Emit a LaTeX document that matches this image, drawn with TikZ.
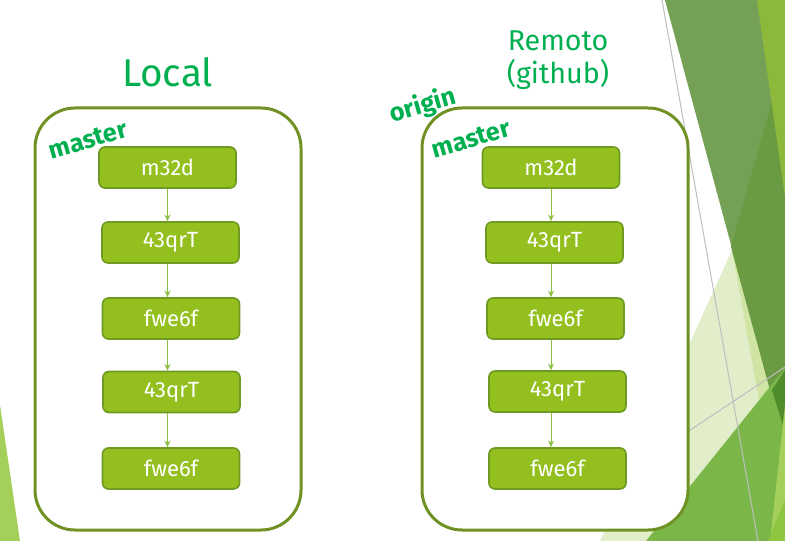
\documentclass[tikz,border=0pt]{standalone}
\usepackage{fontspec}
\setmainfont{Fira Sans}
\usetikzlibrary{arrows.meta}

\definecolor{titlegreen}{RGB}{0,176,80}
\definecolor{framegreen}{RGB}{112,146,36}
\definecolor{commitfill}{RGB}{147,192,31}
\definecolor{commitline}{RGB}{111,154,34}
\definecolor{linkgreen}{RGB}{141,192,64}
\definecolor{facetdark}{RGB}{117,161,87}
\definecolor{facetdeep}{RGB}{106,155,67}
\definecolor{facetbright}{RGB}{141,185,59}
\definecolor{facetpale}{RGB}{226,237,201}
\definecolor{facetsoft}{RGB}{208,228,163}
\definecolor{facetmid}{RGB}{122,182,72}
\definecolor{facetshade}{RGB}{79,141,43}
\definecolor{facetlight}{RGB}{163,207,90}
\definecolor{facetlime}{RGB}{141,198,63}
\definecolor{facetline}{RGB}{190,190,190}

\tikzset{every picture/.style={line width=0.75pt}}
\tikzset{
  commit/.style={draw=commitline, fill=commitfill, line width=1.2pt, rounded corners=4.5pt,
    minimum width=102.75pt, minimum height=30.75pt, inner sep=0pt, text=white,
    font=\fontsize{16.5}{19}\selectfont},
  frame/.style={draw=framegreen, fill=white, line width=2.25pt, rounded corners=30pt},
  branch/.style={text=titlegreen, font=\fontsize{19}{21}\selectfont\bfseries, rotate=16, inner sep=0pt},
  link/.style={draw=linkgreen, line width=0.75pt, -{Stealth[length=5pt,width=4.5pt]}},
}

\begin{document}
\begin{tikzpicture}[x=0.75pt,y=0.75pt,yscale=-1,xscale=1]
    \useasboundingbox (0,0) rectangle (785,541);

    %Background facets
    \fill[facetpale] (732,250) -- (772,390) -- (646,541) -- (600,541) -- cycle ;
    \fill[facetsoft] (732,250) -- (772,390) -- (760,405) -- cycle ;
    \fill[facetdark] (665,0) -- (785,0) -- (785,445) -- cycle ;
    \fill[facetdeep] (785,55) -- (731,247) -- (785,445) -- cycle ;
    \fill[facetbright] (757,0) -- (785,0) -- (785,197) -- cycle ;
    \fill[facetmid] (646,541) -- (785,368) -- (785,541) -- cycle ;
    \fill[facetshade] (772,390) -- (785,370) -- (785,432) -- cycle ;
    \fill[facetlight] (785,405) -- (770,541) -- (785,541) -- cycle ;
    \fill[facetlime] (768,541) -- (785,500) -- (785,541) -- cycle ;
    \fill[facetlight] (0,405) -- (20,541) -- (0,541) -- cycle ;
    \draw[facetline] (662,0) -- (758,541) ;
    \draw[facetline] (600,490) -- (785,367) ;

    %Shape: Rounded Rect [local]
    \draw[frame] (35,108) rectangle (301,530) ;
    %Shape: Rounded Rect [remote]
    \draw[frame] (422,108) rectangle (688,530) ;

    % Text Node
    \node (local) [anchor=base, text=titlegreen, font=\fontsize{29}{34}\selectfont] at (167.5,87) {Local};
    % Text Node
    \node (remote) [anchor=base, align=center, text=titlegreen, font=\fontsize{21.5}{25}\selectfont] at (558,83.5) {Remoto\\(github)};

    % Text Node
    \node (lmaster) [branch] at (88,140) {master};
    % Text Node
    \node (origin) [branch] at (423,106) {origin};
    % Text Node
    \node (rmaster) [branch] at (471,139) {master};

    %Commits local
    \node (l1) [commit] at (167.5,167.5) {m32d};
    \node (l2) [commit] at (170.5,242.5) {43qrT};
    \node (l3) [commit] at (171,318.5) {fwe6f};
    \node (l4) [commit] at (171.5,392) {43qrT};
    \node (l5) [commit] at (171,468.5) {fwe6f};
    %Commits remote
    \node (r1) [commit] at (551,167.5) {m32d};
    \node (r2) [commit] at (554.5,242.5) {43qrT};
    \node (r3) [commit] at (555.5,318.5) {fwe6f};
    \node (r4) [commit] at (557.5,391.5) {43qrT};
    \node (r5) [commit] at (557.5,468.5) {fwe6f};

    %Straight Lines
    \draw[link] (l1.south) -- (l1.south |- l2.north) ;
    \draw[link] (l1.south |- l2.south) -- (l1.south |- l3.north) ;
    \draw[link] (l1.south |- l3.south) -- (l1.south |- l4.north) ;
    \draw[link] (l1.south |- l4.south) -- (l1.south |- l5.north) ;
    \draw[link] (r1.south) -- (r1.south |- r2.north) ;
    \draw[link] (r1.south |- r2.south) -- (r1.south |- r3.north) ;
    \draw[link] (r1.south |- r3.south) -- (r1.south |- r4.north) ;
    \draw[link] (r1.south |- r4.south) -- (r1.south |- r5.north) ;

\end{tikzpicture}
\end{document}
